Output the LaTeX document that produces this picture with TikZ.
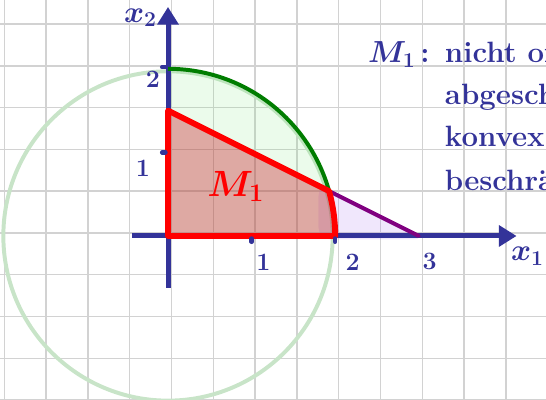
\documentclass[tikz,border=0pt]{standalone}
\usepackage{amsfonts,amssymb,amsmath}
\usepackage{xcolor}
\usepackage{tikz}
\usetikzlibrary{arrows.meta}
\definecolor{penblue}{RGB}{51,51,153}
\definecolor{pengreen}{RGB}{0,125,0}
\definecolor{palegreen}{RGB}{200,228,200}
\definecolor{fillgreen}{RGB}{120,230,120}
\definecolor{penpurple}{RGB}{128,0,128}
\definecolor{fillpurple}{RGB}{170,120,240}
\definecolor{fillred}{RGB}{200,30,40}

\begin{document}
\begin{tikzpicture}[x=2cm,y=2cm,
axis/.style={penblue,line width=3.4pt,-{Triangle[length=12pt,width=14pt]}},
tick/.style={penblue,line width=3pt,line cap=round},
lbl/.style={penblue,font=\fontsize{17}{17}\selectfont\bfseries},
txt/.style={penblue,anchor=base west,inner sep=0pt,font=\fontsize{20}{20}\selectfont\bfseries}]
\clip(-2.01,-1.962)rectangle(4.522,2.823);
\draw[gray!35,line width=1pt,shift={(0.042,0.036)}](-2.5,-2.5)grid[step=0.5](5,3);
\coordinate(O)at(0,0);
\coordinate(A)at(0,1.5);
\coordinate(B)at(3,0);
\coordinate(P)at(1.9266,0.5367);
\coordinate(T)at(0,2);
\draw[palegreen,line width=2.7pt](O)circle[radius=1.97];
\fill[fillgreen,fill opacity=0.15](O)--(T)arc[start angle=90,end angle=0,radius=2]--cycle;
\fill[fillpurple,fill opacity=0.18,rounded corners=8pt](1.8,-0.04)--(1.8,0.62)--(3.08,-0.04)--cycle;
\draw[axis](-0.43,0)--(4.17,0);
\draw[axis](0,-0.62)--(0,2.74);
\fill[fillred,fill opacity=0.37](O)--(A)--(P)arc[start angle=15.57,end angle=0,radius=2]--cycle;
\draw[penpurple,line width=2.7pt,line cap=round](A)--(B);
\draw[pengreen,line width=2.7pt](T)arc[start angle=90,end angle=0,radius=2];
\draw[red,line width=4pt,line join=round](O)--(A)--(P)arc[start angle=15.57,end angle=0,radius=2]--cycle;
\draw[tick](1,-0.03)--(1,-0.07);
\draw[tick](2,-0.03)--(2,-0.07);
\draw[tick](-0.03,1)--(-0.07,1);
\draw[tick](-0.03,2.02)--(-0.07,2.02);
\node[lbl](n1)at(1.14,-0.31){1};
\node[lbl](n2)at(2.21,-0.31){2};
\node[lbl](n3)at(3.13,-0.31){3};
\node[lbl](m1)at(-0.30,0.81){1};
\node[lbl](m2)at(-0.18,1.87){2};
\node[lbl,font=\fontsize{20}{20}\selectfont](xa)at(4.3,-0.24){$\boldsymbol{x_1}$};
\node[lbl,inner sep=0pt,font=\fontsize{20}{20}\selectfont](xb)at(-0.33,2.61){$\boldsymbol{x_2}$};
\node[red,font=\fontsize{25}{25}\selectfont](M)at(0.81,0.59){$\boldsymbol{M_1}$};
\node[txt](mlab)at(2.39,2.07){$\boldsymbol{M_1}$\,:};
\node[txt](t1)at(3.31,2.07){nicht offen};
\node[txt](t2)at(3.31,1.567){abgeschlossen};
\node[txt](t3)at(3.31,1.065){konvex};
\node[txt](t4)at(3.31,0.55){beschränkt};
\end{tikzpicture}
\end{document}
